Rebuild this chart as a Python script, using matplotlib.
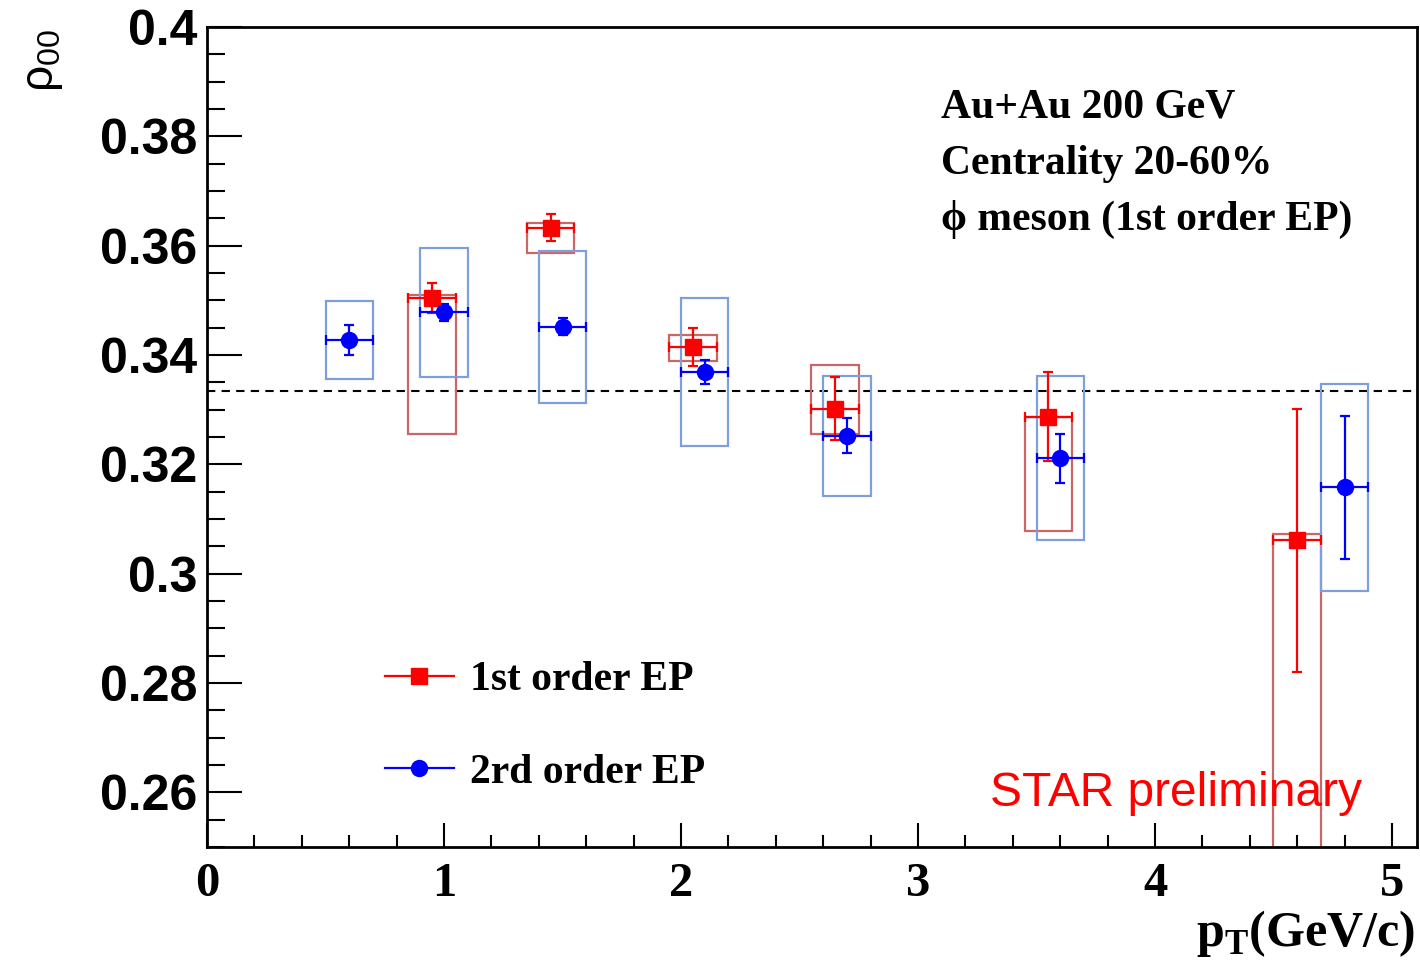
import matplotlib
matplotlib.use("Agg")
import matplotlib.pyplot as plt
from matplotlib.patches import Rectangle
from matplotlib.lines import Line2D
from matplotlib.ticker import MultipleLocator, FuncFormatter

# 1st order EP
pt1 = [0.95, 1.45, 2.05, 2.65, 3.55, 4.60]
rho1 = [0.3504, 0.3633, 0.3415, 0.3302, 0.3287, 0.3061]
stat1 = [0.0027, 0.0025, 0.0035, 0.0057, 0.0081, 0.0240]
sys1_lo = [0.0249, 0.0046, 0.0026, 0.0046, 0.0209, 0.0600]
sys1_hi = [0.0006, 0.0008, 0.0021, 0.0080, 0.0000, 0.0012]

# 2nd order EP
pt2 = [0.6, 1.0, 1.5, 2.1, 2.7, 3.6, 4.8]
rho2 = [0.3427, 0.3478, 0.3452, 0.3369, 0.3252, 0.3211, 0.3158]
stat2 = [0.0027, 0.0015, 0.0015, 0.0022, 0.0032, 0.0045, 0.0131]
sys2_lo = [0.0071, 0.0118, 0.0139, 0.0136, 0.0110, 0.0150, 0.0189]
sys2_hi = [0.0071, 0.0118, 0.0139, 0.0136, 0.0110, 0.0150, 0.0189]

bin_half = 0.1
rho_ref = 1.0 / 3.0

serif = ['Liberation Serif', 'DejaVu Serif']
sans = ['Liberation Sans', 'DejaVu Sans']

fig = plt.figure(figsize=(14.2, 9.65), dpi=100)
ax = fig.add_axes([0.1458, 0.1223, 0.852, 0.8497])

# systematic boxes
for x, y, lo, hi in zip(pt1, rho1, sys1_lo, sys1_hi):
    ax.add_patch(Rectangle((x - bin_half, y - lo), 2 * bin_half, lo + hi,
                           fill=False, ec='#cc6666', lw=1.6, zorder=2))
for x, y, lo, hi in zip(pt2, rho2, sys2_lo, sys2_hi):
    ax.add_patch(Rectangle((x - bin_half, y - lo), 2 * bin_half, lo + hi,
                           fill=False, ec='#7f9fdc', lw=1.6, zorder=2))

ax.axhline(rho_ref, color='black', ls=(0, (4, 3)), lw=1.5, zorder=1)

ax.errorbar(pt1, rho1, yerr=stat1, xerr=bin_half, fmt='s', color='#ff0000',
            ms=11.5, elinewidth=1.6, capsize=3.5, capthick=1.6, zorder=4)
ax.errorbar(pt2, rho2, yerr=stat2, xerr=bin_half, fmt='o', color='#0000ff',
            ms=11.5, elinewidth=1.6, capsize=3.5, capthick=1.6, zorder=4)

ax.set_xlim(0, 5.105)
ax.set_ylim(0.25, 0.4)

ax.xaxis.set_major_locator(MultipleLocator(1))
ax.xaxis.set_minor_locator(MultipleLocator(0.2))
ax.yaxis.set_major_locator(MultipleLocator(0.02))
ax.yaxis.set_minor_locator(MultipleLocator(0.005))
ax.yaxis.set_major_formatter(FuncFormatter(lambda v, p: '%g' % round(v, 3)))

ax.tick_params(axis='both', which='both', direction='in', width=1.5,
               top=False, right=False)
ax.tick_params(axis='y', which='major', length=25, pad=7)
ax.tick_params(axis='y', which='minor', length=13)
ax.tick_params(axis='x', which='major', length=17, pad=11)
ax.tick_params(axis='x', which='minor', length=9)
for s in ax.spines.values():
    s.set_linewidth(2)

for lab in ax.get_yticklabels():
    lab.set_fontfamily(sans)
    lab.set_fontweight('bold')
    lab.set_fontsize(36)
for lab in ax.get_xticklabels():
    lab.set_fontfamily(serif)
    lab.set_fontweight('bold')
    lab.set_fontsize(35)

fig.text(0.997, 0.02, r'p$_\mathregular{T}$(GeV/c)', ha='right', va='baseline',
         fontsize=36, fontweight='bold', family=serif)
fig.text(0.03, 0.97, '\u03c1$_\\mathregular{00}$', rotation=90, ha='center',
         va='top', fontsize=33, family=sans)

info = ['Au+Au 200 GeV', 'Centrality 20-60%', '\u03d5 meson (1st order EP)']
for i, line in enumerate(info):
    fig.text(0.663, 0.878 - i * 0.058, line, ha='left', va='baseline',
             fontsize=30, fontweight='bold', family=serif)

fig.text(0.697, 0.165, 'STAR preliminary', color='#ff0000', ha='left',
         va='baseline', fontsize=34.5, family=sans)

handles = [
    Line2D([], [], color='#ff0000', marker='s', ms=11.5, lw=1.6),
    Line2D([], [], color='#0000ff', marker='o', ms=11.5, lw=1.6),
]
leg = ax.legend(handles, ['1st order EP', '2rd order EP'], loc='center left',
                bbox_to_anchor=(0.147, 0.147), frameon=False, borderpad=0,
                borderaxespad=0, handlelength=1.65, handletextpad=0.4,
                labelspacing=1.3,
                prop={'family': serif, 'weight': 'bold', 'size': 30})

fig.savefig('out.png', dpi=100)
